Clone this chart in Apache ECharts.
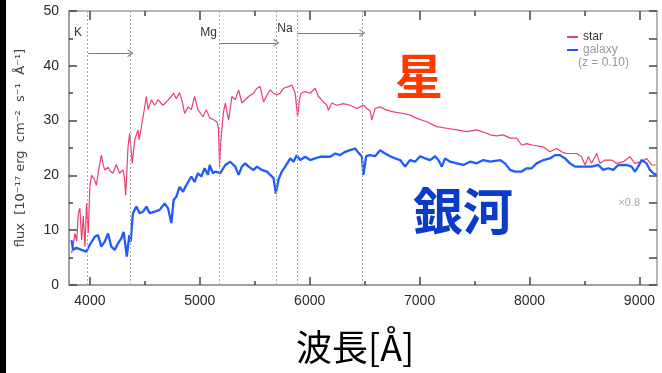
<!DOCTYPE html>
<html>
<head>
<meta charset="utf-8">
<script src="https://cdn.jsdelivr.net/npm/echarts@6/dist/echarts.min.js"></script>
<style>
  html, body { margin: 0; padding: 0; background: #ffffff; }
  #chart { width: 662px; height: 373px; }
  #err { position: absolute; left: 80px; top: 300px; font: 10px monospace; color: #c00; white-space: pre; }
</style>
</head>
<body>
<div id="chart"></div>
<div id="err"></div>
<script>
window.addEventListener('error', e => { document.getElementById('err').textContent += (e.message || e) + '\n'; });

// Stellar spectrum (wavelength in Å, flux in 1e-17 erg/cm2/s/Å)
const starWave = [3834,3850,3864,3880,3895,3909,3925,3940,3955,3970,3985,4000,4015,4035,4059,4080,4104,4120,4135,4165,4185,4210,4240,4270,4300,4315,4326,4347,4362,4386,4408,4438,4448,4484,4514,4530,4560,4590,4620,4665,4696,4741,4762,4786,4816,4840,4862,4893,4923,4953,4983,5029,5059,5090,5120,5156,5170,5180,5190,5201,5215,5232,5262,5292,5323,5353,5383,5414,5444,5489,5520,5550,5580,5611,5641,5671,5702,5732,5762,5808,5838,5868,5890,5905,5920,5959,6004,6050,6080,6126,6156,6171,6201,6247,6308,6368,6429,6459,6490,6520,6550,6565,6595,6641,6702,6762,6853,6914,6974,7065,7156,7247,7338,7429,7520,7611,7641,7700,7762,7823,7883,7929,7974,8035,8126,8186,8247,8292,8338,8429,8474,8505,8535,8565,8611,8641,8686,8747,8792,8853,8914,8959,9020,9065,9111,9150];
const starFlux = [5.8,7.5,9.4,8.0,13.1,14.0,8.2,12.6,7.0,14.9,9.5,17.9,20.0,19.5,18.2,21.0,23.7,22.0,21.0,21.5,20.8,20.4,22.0,20.4,21.0,19.5,16.4,25.2,27.7,22.2,26.5,28.3,26.5,30.7,34.4,32.0,33.8,32.8,33.8,32.8,33.4,34.4,35.0,34.0,35.1,33.5,31.3,32.5,32.0,34.4,32.0,30.7,32.0,30.5,30.2,29.8,28.5,21.6,26.0,28.3,31.5,33.2,30.1,34.4,33.8,35.6,33.2,33.8,34.4,35.0,35.9,36.2,33.4,34.6,35.6,35.0,34.7,35.0,35.9,36.2,36.5,35.0,30.7,33.5,35.0,35.3,35.0,35.9,34.4,33.4,32.8,31.9,33.2,32.8,33.1,32.8,32.2,32.5,32.8,32.2,31.8,30.1,32.2,32.5,31.9,31.6,31.3,31.0,30.4,29.8,28.9,28.6,28.3,28.0,28.3,27.7,27.4,27.2,27.4,26.8,26.8,25.5,25.8,25.5,25.2,24.3,24.9,24.3,24.0,24.0,23.4,21.9,23.4,22.2,24.0,22.2,22.8,22.8,22.2,22.5,23.4,22.2,22.5,23.1,21.9,21.9];

// Galaxy spectrum, z = 0.10
const galaxyWave = [3833,3847,3877,3923,3968,3998,4044,4074,4104,4135,4165,4195,4226,4256,4286,4307,4336,4359,4371,4392,4423,4453,4484,4514,4544,4590,4635,4680,4711,4741,4762,4786,4816,4847,4877,4923,4953,4983,5014,5044,5074,5090,5120,5141,5186,5232,5277,5323,5353,5383,5414,5444,5489,5520,5565,5611,5641,5671,5692,5717,5747,5777,5823,5853,5883,5914,5959,6004,6050,6095,6141,6186,6232,6277,6323,6368,6414,6444,6474,6489,6514,6550,6595,6641,6686,6732,6777,6823,6868,6914,6959,7005,7050,7096,7141,7171,7202,7232,7277,7338,7398,7459,7520,7580,7641,7732,7777,7823,7868,7929,7974,8020,8065,8126,8186,8232,8277,8323,8368,8414,8489,8565,8626,8671,8717,8762,8808,8883,8929,8959,8989,9020,9065,9095,9126,9155];
const galaxyFlux = [8.2,6.4,6.8,6.4,6.1,7.3,8.8,9.1,7.0,7.9,9.4,7.0,6.4,7.6,8.5,9.7,5.2,9.1,7.9,13.1,14.3,13.1,13.4,14.3,13.1,13.4,13.7,14.9,14.0,11.3,15.5,16.1,17.9,17.0,18.2,19.8,18.8,20.4,19.8,21.3,20.1,21.9,20.4,20.7,20.4,21.9,22.5,21.6,20.1,21.6,22.2,21.6,21.0,21.6,21.0,20.7,20.1,19.5,16.7,19.3,20.7,21.6,23.1,22.5,23.7,22.8,23.4,22.8,23.1,23.4,23.4,23.4,24.0,23.7,24.3,24.6,24.9,24.1,23.5,20.1,23.5,23.7,23.5,24.6,24.0,23.5,23.1,22.8,21.6,22.8,22.5,23.5,23.1,22.8,23.5,22.8,21.6,23.1,22.5,22.2,21.9,22.5,22.2,22.8,22.5,22.8,22.2,21.0,20.7,20.7,21.3,21.3,22.2,22.8,23.1,23.7,23.7,23.1,22.2,21.6,21.6,21.6,21.9,21.0,21.3,21.0,21.9,21.9,21.6,20.7,21.6,22.8,22.2,21.0,20.4,20.1];

// Axis ticks
const xMajorTicks = [4000, 5000, 6000, 7000, 8000, 9000];
const xMinorTicks = [4500, 5500, 6500, 7500, 8500];

// Absorption features: dotted boundary lines, names and band arrows
const featureLines = [3975, 4370, 5179, 5697, 5888, 6479];
const featureNames = ['K', 'Mg', 'Na'];
const featureNameAt = [[3893, 46.1], [5079, 46.0], [5775, 46.7]];
const bandArrows = [[3985, 4370, 42.3], [5179, 5697, 44.2], [5888, 6479, 46.0]];

const STAR_COLOR = '#e8406e';
const GALAXY_COLOR = '#1e5cff';
const FRAME = '#a0a0a0';
const TICK = '#444444';
const chevron = 'path://M0,10 L5,0 L10,10 L8.6,10 L5,2.8 L1.4,10 Z';

const chart = echarts.init(document.getElementById('chart'));

const xBase = { type: 'value', min: 3810, max: 9160, splitLine: { show: false } };
const yBase = { type: 'value', min: 0, max: 50, splitLine: { show: false } };

try {
chart.setOption({
  backgroundColor: '#ffffff',
  animation: false,
  grid: { left: 69, right: 5, top: 11, bottom: 88 },
  legend: {
    orient: 'vertical', left: 562, top: 26, icon: 'rect',
    itemWidth: 11, itemHeight: 2, itemGap: 1,
    textStyle: { fontSize: 12, fontFamily: 'Liberation Sans' },
    data: [
      { name: 'star', textStyle: { color: '#3a3a3a' } },
      { name: 'galaxy', textStyle: { color: '#9a9a9a' } }
    ]
  },
  xAxis: [
    Object.assign({}, xBase, {
      position: 'bottom',
      axisLine: { show: true, onZero: false, lineStyle: { color: FRAME, width: 2 } },
      axisTick: { show: true, inside: true, length: 8, customValues: xMajorTicks, lineStyle: { color: TICK, width: 1.5 } },
      axisLabel: { customValues: xMajorTicks, fontSize: 14, color: '#2a2a2a', margin: 9, fontFamily: 'Liberation Sans',
                   formatter: v => String(v) }
    }),
    Object.assign({}, xBase, {
      position: 'bottom',
      axisLine: { show: false, onZero: false },
      axisTick: { show: true, inside: true, length: 4, customValues: xMinorTicks, lineStyle: { color: TICK, width: 1.5 } },
      axisLabel: { show: false }
    }),
    Object.assign({}, xBase, {
      position: 'top',
      axisLine: { show: true, onZero: false, lineStyle: { color: FRAME, width: 1.5 } },
      axisTick: { show: true, inside: true, length: 9, customValues: xMajorTicks, lineStyle: { color: TICK, width: 1.5 } },
      axisLabel: { show: false }
    }),
    Object.assign({}, xBase, {
      position: 'top',
      axisLine: { show: false, onZero: false },
      axisTick: { show: true, inside: true, length: 5, customValues: xMinorTicks, lineStyle: { color: TICK, width: 1.5 } },
      axisLabel: { show: false }
    })
  ],
  yAxis: [
    Object.assign({}, yBase, {
      position: 'left', interval: 10,
      axisLine: { show: true, onZero: false, lineStyle: { color: FRAME, width: 2 } },
      axisTick: { show: true, inside: true, length: 8, lineStyle: { color: TICK, width: 1.5 } },
      minorTick: { show: true, splitNumber: 2, length: 4, lineStyle: { color: TICK, width: 1.5 } },
      axisLabel: { fontSize: 14, color: '#2a2a2a', margin: 10, fontFamily: 'Liberation Sans' },
      name: 'flux  [10⁻¹⁷ erg  cm⁻²  s⁻¹  Å⁻¹]',
      nameLocation: 'middle', nameRotate: 90, nameGap: 42,
      nameTextStyle: { fontSize: 13, color: '#444444', fontFamily: 'DejaVu Sans' }
    }),
    Object.assign({}, yBase, {
      position: 'right', interval: 5,
      axisLine: { show: true, onZero: false, lineStyle: { color: FRAME, width: 1.5 } },
      axisTick: { show: true, inside: true, length: 8, lineStyle: { color: TICK, width: 1.5 } },
      axisLabel: { show: false }
    })
  ],
  series: [
    {
      name: 'star', type: 'line', xAxisIndex: 0, yAxisIndex: 0,
      data: starWave.map((w, i) => [w, starFlux[i]]),
      symbol: 'none', showSymbol: false,
      lineStyle: { color: STAR_COLOR, width: 1.2 },
      itemStyle: { color: STAR_COLOR },
      z: 3,
      markLine: {
        silent: true, symbol: 'none',
        label: { show: false },
        lineStyle: { color: '#a8a8a8', type: [2, 2], width: 1 },
        data: featureLines.map(w => ({ xAxis: w }))
      }
    },
    {
      name: 'galaxy', type: 'line', xAxisIndex: 0, yAxisIndex: 0,
      data: galaxyWave.map((w, i) => [w, galaxyFlux[i]]),
      symbol: 'none', showSymbol: false,
      lineStyle: { color: GALAXY_COLOR, width: 2.3 },
      itemStyle: { color: GALAXY_COLOR },
      z: 4,
      markLine: {
        silent: true,
        symbol: ['none', chevron], symbolSize: [8, 6],
        label: { show: false },
        lineStyle: { color: '#7a7a7a', type: 'solid', width: 1 },
        data: bandArrows.map(a => [{ coord: [a[0], a[2]] }, { coord: [a[1], a[2]] }])
      },
      markPoint: {
        silent: true,
        symbol: 'circle', symbolSize: 0,
        label: {
          show: true, position: 'inside', color: '#333333',
          fontSize: 12, fontFamily: 'Liberation Sans',
          formatter: p => p.name
        },
        data: featureNames.map((n, i) => ({ name: n, coord: featureNameAt[i] }))
      }
    }
  ],
  graphic: [
    { type: 'rect', left: 0, top: 0, shape: { width: 6, height: 373 }, style: { fill: '#000000' }, z: 100 },
    { type: 'text', left: 578, top: 57, style: { text: '(z = 0.10)', fill: '#9a9a9a', font: '12px "Liberation Sans"' } },
    { type: 'text', right: 22, top: 197, style: { text: '×0.8', fill: '#a8a8a8', font: '11px "Liberation Sans"' } },
    { type: 'text', left: 395, top: 52, style: { text: '星', fill: '#ff3a00', font: 'bold 48px "Noto Sans CJK JP"' } },
    { type: 'text', left: 413, top: 186, style: { text: '銀河', fill: '#0a3cc8', font: 'bold 50px "Noto Sans CJK JP"' } },
    { type: 'text', left: 296, top: 329, style: { text: '波長[Å]', fill: '#000000', font: '36px "Noto Sans CJK JP"' } }
  ]
});
} catch (e) {
  document.getElementById('err').textContent += String(e && e.stack || e);
}
</script>
</body>
</html>
